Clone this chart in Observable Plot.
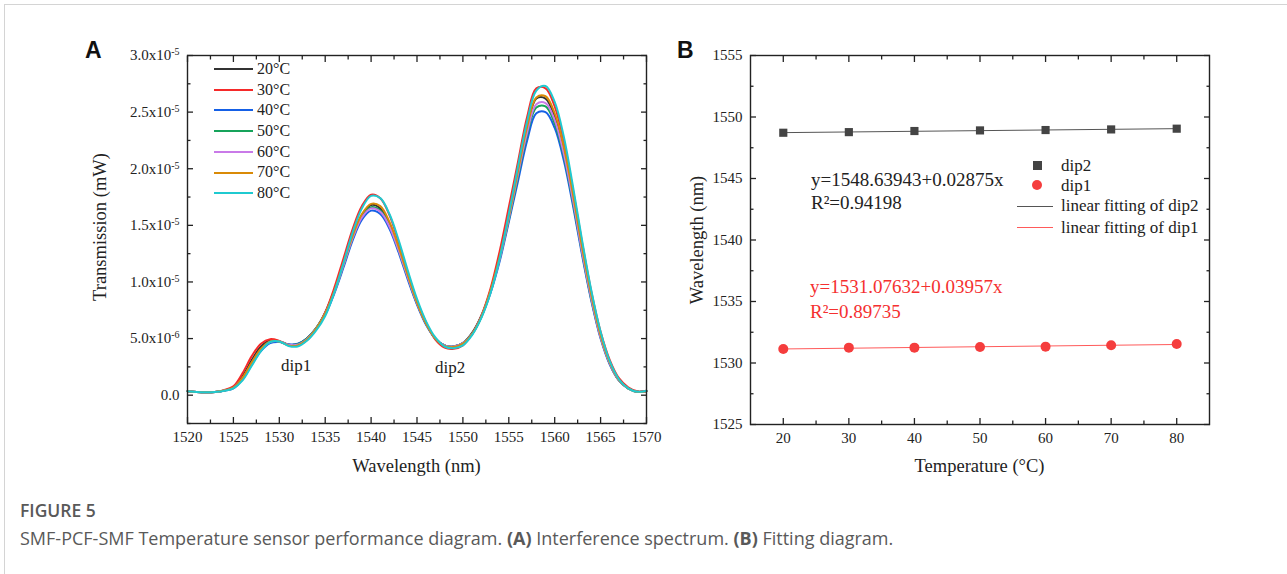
<!DOCTYPE html>
<html>
<head>
<meta charset="utf-8">
<script src="https://cdn.jsdelivr.net/npm/d3@7"></script>
<script src="https://cdn.jsdelivr.net/npm/@observablehq/plot@0.6"></script>
<style>
  html, body { margin: 0; padding: 0; background: #fff; }
  body { width: 1287px; height: 574px; position: relative; overflow: hidden; font-family: "Liberation Serif", "Times New Roman", serif; color: #222; }
  #border { position: absolute; left: 4px; top: 4px; right: 0; bottom: 0; border-top: 1px solid #d4d4d4; border-left: 1px solid #d4d4d4; }
  .abs { position: absolute; white-space: nowrap; line-height: 1; }
  .panel { position: absolute; top: 0; }
  .panel svg { overflow: visible; }
  .lbl { font-family: "Liberation Sans", Arial, sans-serif; font-weight: bold; font-size: 23px; color: #111; }
  .ax { font-size: 18.5px; color: #222; }
  .leg { font-size: 16px; color: #222; }
  .ann { font-size: 19px; }
  .cap { font-family: "Open Sans", "Noto Sans", sans-serif; color: #595959; }
</style>
</head>
<body>
<div id="border"></div>
<div id="panelA" class="panel" style="left:0px"></div>
<div id="panelB" class="panel" style="left:660px"></div>
<div id="overlay"></div>
<script>
// ---------------- Data: panel A (transmission spectra, values in units of 1e-6 mW) ----------------
const wavelengths = [1520,1521,1522,1523,1524,1525,1526,1527,1528,1529,1530,1531,1532,1533,1534,1535,1536,1537,1538,1539,1540,1541,1542,1543,1544,1545,1546,1547,1548,1549,1550,1551,1552,1553,1554,1555,1556,1557,1558,1559,1560,1561,1562,1563,1564,1565,1566,1567,1568,1569,1570];
const seriesLabels = ["20°C","30°C","40°C","50°C","60°C","70°C","80°C"];
const seriesColors = ["#333333","#f52a2a","#1560e6","#16a35b","#c97ae8","#d98a07","#1fcad0"];
const t20 = [0.35,0.28,0.25,0.28,0.42, 0.70,1.7,3.1,4.3,4.85, 4.75,4.45,4.5,5.0,5.9, 7.3,9.3,11.7,14.1,15.9, 16.8,16.5,15.1,12.9,10.4, 8.1,6.3,5.0,4.4,4.3, 4.6,5.5,7.0,9.2,12.2, 15.8,19.7,23.6,26.2,26.2, 24.6,21.6,17.4,12.8,8.6, 5.2,2.8,1.3,0.6,0.3, 0.35];
const t30 = [0.35,0.28,0.25,0.28,0.45, 0.78,1.95,3.45,4.55,4.95, 4.8,4.45,4.4,4.85,5.8, 7.3,9.5,12.1,14.7,16.7, 17.7,17.4,15.9,13.5,10.8, 8.3,6.4,4.9,4.2,4.1, 4.4,5.4,7.0,9.4,12.7, 16.6,20.6,24.6,27.1,27.1, 25.5,22.4,18.1,13.4,9.1, 5.6,3.1,1.5,0.7,0.35, 0.4];
const t40 = [0.35,0.28,0.25,0.28,0.40, 0.60,1.4,2.7,3.9,4.6, 4.7,4.5,4.55,5.0,5.9, 7.1,9.0,11.3,13.7,15.5, 16.3,16.0,14.7,12.6,10.2, 8.0,6.2,5.0,4.4,4.3, 4.6,5.4,6.9,9.0,11.8, 15.3,18.9,22.5,24.9,25.0, 23.6,20.7,16.7,12.3,8.3, 5.0,2.7,1.3,0.6,0.3, 0.35];
const t50 = [0.35,0.28,0.25,0.28,0.41, 0.65,1.5,2.8,4.0,4.7, 4.75,4.45,4.5,5.0,5.9, 7.2,9.1,11.5,13.9,15.8, 16.6,16.3,15.0,12.8,10.4, 8.1,6.3,5.0,4.4,4.3, 4.6,5.4,6.9,9.1,12.0, 15.5,19.3,23.0,25.4,25.5, 24.0,21.1,17.0,12.5,8.4, 5.1,2.8,1.3,0.6,0.3, 0.35];
const t60 = [0.35,0.28,0.25,0.28,0.41, 0.65,1.5,2.85,4.05,4.7, 4.75,4.45,4.45,4.95,5.85, 7.2,9.1,11.5,13.9,15.7, 16.5,16.2,14.9,12.8,10.4, 8.1,6.3,5.0,4.4,4.3, 4.6,5.4,6.9,9.1,12.0, 15.6,19.5,23.2,25.7,25.8, 24.3,21.3,17.2,12.6,8.5, 5.1,2.8,1.3,0.6,0.3, 0.35];
const t70 = [0.35,0.28,0.25,0.28,0.41, 0.66,1.55,2.9,4.1,4.75, 4.75,4.4,4.4,4.9,5.85, 7.2,9.2,11.7,14.1,16.0, 16.9,16.7,15.3,13.1,10.6, 8.2,6.3,5.0,4.35,4.25, 4.55,5.4,6.9,9.2,12.2, 15.8,19.8,23.7,26.3,26.4, 24.9,21.9,17.7,13.0,8.8, 5.3,2.9,1.35,0.6,0.3, 0.35];
const t80 = [0.35,0.28,0.25,0.28,0.38, 0.60,1.3,2.6,3.9,4.7, 4.75,4.35,4.3,4.8,5.7, 7.0,9.1,11.7,14.4,16.5, 17.6,17.4,16.0,13.7,11.0, 8.5,6.5,5.1,4.3,4.15, 4.4,5.3,6.8,9.0,12.1, 16.0,20.2,24.2,26.9,27.3, 25.9,22.8,18.4,13.6,9.2, 5.6,3.0,1.4,0.6,0.3, 0.4];
const xTicksA = [1520,1525,1530,1535,1540,1545,1550,1555,1560,1565,1570];
const xMinorA = [1522.5,1527.5,1532.5,1537.5,1542.5,1547.5,1552.5,1557.5,1562.5,1567.5];
const yTicksA = [0,5,10,15,20,25,30];
const yTickTextA = ["0.0","5.0x10^-6","1.0x10^-5","1.5x10^-5","2.0x10^-5","2.5x10^-5","3.0x10^-5"];
const yMinorA = [-2.5,2.5,7.5,12.5,17.5,22.5,27.5];

// ---------------- Data: panel B (dip wavelength vs temperature) ----------------
const temperatures = [20,30,40,50,60,70,80];
const dip2 = [1548.72,1548.77,1548.86,1548.91,1548.94,1548.99,1549.05];
const dip1 = [1531.14,1531.25,1531.25,1531.30,1531.33,1531.44,1531.55];
const fit2Text = ["y=1548.63943+0.02875x", "R²=0.94198"];
const fit1Text = ["y=1531.07632+0.03957x", "R²=0.89735"];
const legendB = ["dip2","dip1","linear fitting of dip2","linear fitting of dip1"];
const xTicksB = [20,30,40,50,60,70,80];
const xMinorB = [25,35,45,55,65,75];
const yTicksB = [1525,1530,1535,1540,1545,1550,1555];
const yMinorB = [1527.5,1532.5,1537.5,1542.5,1547.5,1552.5];

const INK = "#222";
function frameAxes(xMaj, xMin, yMaj, yMin, xFmt, yFmt) {
  const none = () => "";
  const base = {stroke: INK, strokeWidth: 1.3, label: null, fill: INK};
  return [
    Plot.axisX(xMaj, {...base, anchor: "bottom", tickSize: -6, tickPadding: 14, tickFormat: xFmt}),
    Plot.axisX(xMin, {...base, anchor: "bottom", tickSize: -3.5, tickFormat: none}),
    Plot.axisX(xMaj, {...base, anchor: "top", tickSize: -6, tickFormat: none}),
    Plot.axisX(xMin, {...base, anchor: "top", tickSize: -3.5, tickFormat: none}),
    Plot.axisY(yMaj, {...base, anchor: "left", tickSize: -6, tickPadding: 14, tickFormat: yFmt}),
    Plot.axisY(yMin, {...base, anchor: "left", tickSize: -3.5, tickFormat: none}),
    Plot.axisY(yMaj, {...base, anchor: "right", tickSize: -6, tickFormat: none}),
    Plot.axisY(yMin, {...base, anchor: "right", tickSize: -3.5, tickFormat: none}),
    Plot.frame({stroke: INK, strokeWidth: 1.4})
  ];
}
const plotStyle = {fontFamily: "'Liberation Serif', 'Times New Roman', serif", fontSize: "15px", color: INK, background: "transparent", overflow: "visible"};

// ---------------- Panel A ----------------
const allSeries = [t20, t30, t40, t50, t60, t70, t80];
const rowsA = [];
allSeries.forEach((arr, si) => arr.forEach((v, i) => rowsA.push({w: wavelengths[i], v, s: seriesLabels[si]})));

const plotA = Plot.plot({
  width: 660, height: 480,
  marginLeft: 187, marginRight: 14, marginTop: 55, marginBottom: 57,
  style: plotStyle,
  x: {domain: [1520, 1570]},
  y: {domain: [-2.5, 30]},
  color: {domain: seriesLabels, range: seriesColors},
  marks: [
    Plot.line(rowsA, {x: "w", y: "v", z: "s", stroke: "s", strokeWidth: 2, curve: "catmull-rom"}),
    ...frameAxes(xTicksA, xMinorA, yTicksA, yMinorA, d => String(d), d => yTickTextA[yTicksA.indexOf(d)])
  ]
});
document.getElementById("panelA").appendChild(plotA);
// superscript exponents on y tick labels
plotA.querySelectorAll('g[aria-label="y-axis tick label"] text').forEach(t => {
  const s = t.textContent;
  if (s.includes("^")) {
    const [b, e] = s.split("^");
    t.textContent = b;
    const sp = document.createElementNS("http://www.w3.org/2000/svg", "tspan");
    sp.setAttribute("dy", "-0.5em");
    sp.setAttribute("font-size", "10px");
    sp.textContent = e;
    t.appendChild(sp);
  }
});

// ---------------- Panel B ----------------
const rowsB = temperatures.map((t, i) => ({t, dip2: dip2[i], dip1: dip1[i]}));
const plotB = Plot.plot({
  width: 627, height: 480,
  marginLeft: 90, marginRight: 78, marginTop: 55, marginBottom: 56,
  style: plotStyle,
  x: {domain: [15, 85]},
  y: {domain: [1525, 1555]},
  marks: [
    Plot.linearRegressionY(rowsB, {x: "t", y: "dip2", ci: 0, stroke: "#555", strokeWidth: 1}),
    Plot.linearRegressionY(rowsB, {x: "t", y: "dip1", ci: 0, stroke: "#ff5a5a", strokeWidth: 1}),
    Plot.dot(rowsB, {x: "t", y: "dip2", symbol: "square", fill: "#444", r: 4.6}),
    Plot.dot(rowsB, {x: "t", y: "dip1", fill: "#f53d3d", r: 5}),
    ...frameAxes(xTicksB, xMinorB, yTicksB, yMinorB, d => String(d), d => String(d))
  ]
});
document.getElementById("panelB").appendChild(plotB);

// ---------------- Overlay texts (titles, legends, annotations, caption) ----------------
const ov = document.getElementById("overlay");
function addText(txt, left, top, cls, extra = "") {
  const d = document.createElement("div");
  d.className = "abs " + cls;
  d.style.cssText += `left:${left}px;top:${top}px;${extra}`;
  d.innerHTML = txt;
  ov.appendChild(d);
  return d;
}
function addBox(left, top, w, h, css) {
  const d = document.createElement("div");
  d.className = "abs";
  d.style.cssText += `left:${left}px;top:${top}px;width:${w}px;height:${h}px;${css}`;
  ov.appendChild(d);
}
addText("A", 85, 39, "lbl");
addText("B", 677, 39, "lbl");

// axis titles
addText("Wavelength (nm)", 416.5, 457, "ax", "transform:translateX(-50%);");
addText("Temperature (°C)", 979.5, 457, "ax", "transform:translateX(-50%);");
addText("Transmission (mW)", 100, 227, "ax", "transform:translate(-50%,-50%) rotate(-90deg);");
addText("Wavelength (nm)", 697, 240, "ax", "transform:translate(-50%,-50%) rotate(-90deg);");

// legend A
const legY = [69.3, 90, 110.3, 131, 152, 172.7, 193.3];
seriesLabels.forEach((s, i) => {
  addBox(214, legY[i] - 1, 39, 2, `background:${seriesColors[i]};`);
  addText(s, 257, legY[i] - 8.5, "leg");
});
addText("dip1", 281, 357, "leg", "font-size:17px;");
addText("dip2", 435, 359, "leg", "font-size:17px;");

// legend B
addBox(1032.5, 160.5, 9, 9, "background:#444;");
addBox(1032, 180, 10, 10, "background:#f53d3d;border-radius:50%;");
addBox(1017, 205.5, 36, 1, "background:#555;");
addBox(1017, 227, 36, 1, "background:#ff5a5a;");
addText(legendB[0], 1061, 156.5, "leg", "font-size:17px;");
addText(legendB[1], 1061, 176.5, "leg", "font-size:17px;");
addText(legendB[2], 1061, 197, "leg", "font-size:17px;");
addText(legendB[3], 1061, 218.5, "leg", "font-size:17px;");

// fit annotations
addText(fit2Text[0], 811, 170, "ann", "color:#222;");
addText(fit2Text[1], 811, 193, "ann", "color:#222;");
addText(fit1Text[0], 810, 276.5, "ann", "color:#f53030;");
addText(fit1Text[1], 810, 302, "ann", "color:#f53030;");

// caption
addText("FIGURE 5", 20, 502, "cap", "font-size:17.5px;font-weight:600;");
addText("SMF-PCF-SMF Temperature sensor performance diagram. <b>(A)</b> Interference spectrum. <b>(B)</b> Fitting diagram.", 20, 529, "cap", "font-size:18px;");
</script>
</body>
</html>
